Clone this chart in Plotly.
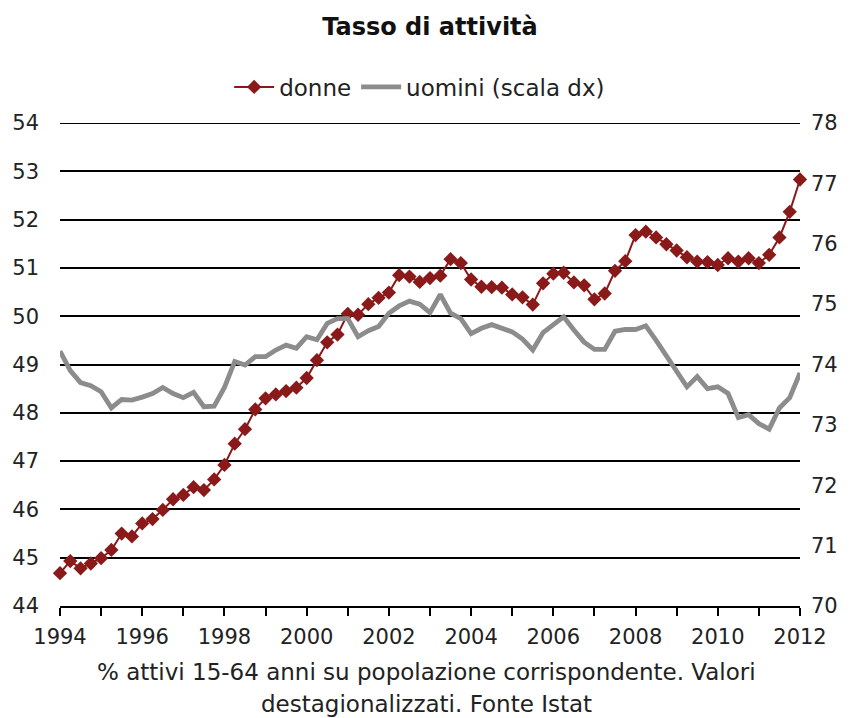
import plotly.graph_objects as go

# Quarterly data, 1994 Q1 - 2012 Q1
start_year = 1994
donne = [44.68, 44.93, 44.78, 44.88, 44.99, 45.16, 45.50, 45.44,
         45.71, 45.80, 45.99, 46.21, 46.30, 46.46, 46.40, 46.62,
         46.92, 47.36, 47.66, 48.07, 48.30, 48.38, 48.45, 48.52,
         48.72, 49.09, 49.46, 49.62, 50.05, 50.03, 50.25, 50.38,
         50.49, 50.85, 50.82, 50.71, 50.79, 50.84, 51.18, 51.10,
         50.76, 50.61, 50.60, 50.59, 50.45, 50.39, 50.24, 50.68,
         50.88, 50.90, 50.70, 50.64, 50.35, 50.47, 50.94, 51.14,
         51.68, 51.75, 51.63, 51.49, 51.36, 51.22, 51.13, 51.12,
         51.06, 51.20, 51.13, 51.20, 51.10, 51.27, 51.63, 52.16,
         52.83]
uomini = [74.22, 73.90, 73.70, 73.65, 73.55, 73.28, 73.42, 73.41,
          73.46, 73.52, 73.62, 73.52, 73.45, 73.54, 73.30, 73.31,
          73.62, 74.05, 73.99, 74.13, 74.13, 74.24, 74.32, 74.27,
          74.46, 74.41, 74.68, 74.76, 74.76, 74.46, 74.56, 74.63,
          74.85, 74.97, 75.05, 75.00, 74.86, 75.16, 74.85, 74.76,
          74.51, 74.60, 74.66, 74.60, 74.54, 74.42, 74.24, 74.53,
          74.66, 74.79, 74.57, 74.37, 74.25, 74.25, 74.55, 74.58,
          74.58, 74.64, 74.40, 74.15, 73.90, 73.63, 73.80, 73.60,
          73.63, 73.52, 73.12, 73.17, 73.02, 72.93, 73.28, 73.45,
          73.86]
x_vals = [start_year + i / 4 for i in range(len(donne))]

year_ticks = list(range(1994, 2013))
year_labels = [str(y) if (y - 1994) % 2 == 0 else "" for y in year_ticks]
left_ticks = list(range(44, 55))
right_ticks = list(range(70, 79))

title_text = "<b>Tasso di attività</b>"
note_line1 = "% attivi 15-64 anni su popolazione corrispondente. Valori"
note_line2 = "destagionalizzati. Fonte Istat"

FONT = "DejaVu Sans"
TXT = "#222222"

# page body has an 8px margin: figure is sized to fit the window
W, H = 849, 710

fig = go.Figure()
fig.add_trace(go.Scatter(
    x=x_vals, y=donne, name="donne", mode="lines+markers",
    line=dict(color="#8a1a1a", width=2),
    marker=dict(symbol="diamond", size=11, color="#8a1a1a"),
    cliponaxis=False, yaxis="y"))
fig.add_trace(go.Scatter(
    x=x_vals, y=uomini, name="uomini (scala dx)", mode="lines",
    line=dict(color="#8c8c8c", width=4.8),
    cliponaxis=False, yaxis="y2"))

fig.update_layout(
    width=W, height=H,
    margin=dict(l=52, r=57, t=115, b=112, autoexpand=False),
    paper_bgcolor="white", plot_bgcolor="white",
    font=dict(family=FONT, size=21, color=TXT),
    title=dict(text=title_text, x=(52 + 370) / W, xanchor="center", y=1 - 19 / H,
               yanchor="middle", font=dict(family=FONT, size=24, color="#111111")),
    showlegend=True,
    legend=dict(orientation="h", x=0.486, xanchor="center", y=(606 - 87) / 483,
                yanchor="middle", font=dict(family=FONT, size=23, color=TXT),
                bgcolor="rgba(0,0,0,0)", itemwidth=40, traceorder="normal"),
    xaxis=dict(range=[1994, 2012], tickvals=year_ticks, ticktext=year_labels,
               ticks="outside", ticklen=8, tickwidth=1.5, tickcolor="black",
               showline=True, linecolor="black", linewidth=1.5,
               showgrid=False, zeroline=False, automargin=False,
               ticklabelstandoff=3,
               tickfont=dict(family=FONT, size=21, color=TXT)),
    yaxis=dict(range=[44, 54], tickvals=left_ticks, showgrid=True,
               gridcolor="black", gridwidth=1.5, zeroline=False,
               showline=False, ticks="", ticklabelstandoff=20, automargin=False,
               tickfont=dict(family=FONT, size=21, color=TXT)),
    yaxis2=dict(range=[70, 78], tickvals=right_ticks, overlaying="y",
                side="right", showgrid=False, zeroline=False, showline=False,
                ticks="", ticklabelstandoff=10, automargin=False,
                tickfont=dict(family=FONT, size=21, color=TXT)),
    shapes=[dict(type="line", xref="paper", x0=0, x1=1, yref="y",
                 y0=left_ticks[-1], y1=left_ticks[-1],
                 line=dict(color="black", width=2), layer="below")],
    annotations=[
        dict(text=note_line1, xref="paper", yref="paper", x=0.495, y=(606 - 672) / 483,
             xanchor="center", yanchor="middle", showarrow=False,
             font=dict(family=FONT, size=23, color=TXT)),
        dict(text=note_line2, xref="paper", yref="paper", x=0.495, y=(606 - 704) / 483,
             xanchor="center", yanchor="middle", showarrow=False,
             font=dict(family=FONT, size=23, color=TXT)),
    ],
)

fig.write_html("out.html")
